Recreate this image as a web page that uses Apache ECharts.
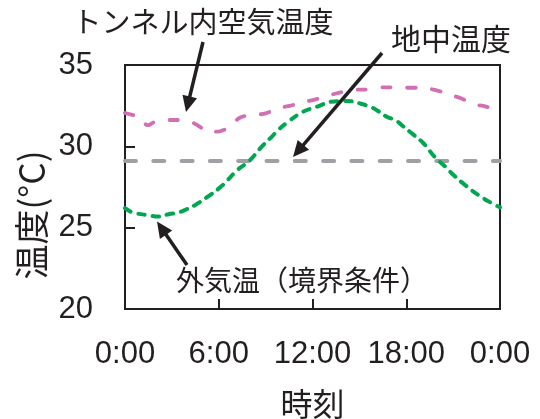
<!DOCTYPE html>
<html><head><meta charset="utf-8">
<script src="https://cdn.jsdelivr.net/npm/echarts@6.0.0/dist/echarts.min.js"></script>
<style>html,body{margin:0;padding:0;background:#fff}#c{width:540px;height:419px}</style>
</head><body><div id="c"></div>
<script>
// Tunnel air temperature (magenta)
const tunnelHours = [0, 0.6, 1.0, 1.45, 2.0, 2.7, 3.4, 3.95, 4.4, 4.8, 5.2, 5.9, 6.3, 6.7, 7.35, 8.3, 9.0, 9.8, 10.6, 11.4, 12.2, 13.0, 13.8, 14.7, 15.6, 16.4, 17.3, 18.2, 19.0, 20.0, 20.7, 21.5, 22.3, 23.1, 24];
const tunnelTemp  = [32.05, 31.9, 31.8, 31.3, 31.55, 31.62, 31.62, 31.58, 31.42, 31.2, 30.9, 30.9, 31.0, 31.15, 31.76, 31.93, 32.03, 32.34, 32.5, 32.71, 32.89, 33.11, 33.32, 33.48, 33.5, 33.63, 33.63, 33.6, 33.6, 33.42, 33.2, 32.95, 32.6, 32.44, 32.1];
// Outside air temperature (green)
const outsideHours = [0, 0.5, 1.6, 2.1, 2.8, 3.4, 3.75, 4.5, 5.3, 6.2, 7.2, 7.95, 8.75, 9.4, 9.8, 10.45, 11.4, 12.3, 13.2, 14.0, 14.5, 15.15, 15.7, 16.1, 16.75, 17.3, 17.7, 18.35, 19.1, 19.8, 20.5, 20.9, 21.75, 22.6, 23.35, 24];
const outsideTemp  = [26.2, 25.93, 25.75, 25.68, 25.83, 25.93, 26.05, 26.4, 26.91, 27.57, 28.55, 29.1, 29.98, 30.6, 31.0, 31.52, 32.13, 32.44, 32.74, 32.78, 32.77, 32.6, 32.44, 32.23, 31.82, 31.62, 31.31, 30.8, 30.19, 29.37, 28.75, 28.35, 27.63, 27.02, 26.57, 26.25];
// Ground temperature (gray)
const groundHours = [0, 24];
const groundTemp  = [29.1, 29.1];

const xTicks = [0, 6, 12, 18, 24];
const xTickLabels = ['0:00', '6:00', '12:00', '18:00', '0:00'];
const yTicks = [20, 25, 30, 35];

const xTitle = '時刻';
const yTitle = '温度(°C)';
const labelTunnel = 'トンネル内空気温度';
const labelGround = '地中温度';
const labelOutside = '外気温（境界条件）';

const INK = '#231f20';
const JP = '"Noto Sans CJK JP", sans-serif';
const NUM = '"Liberation Sans", Arial, sans-serif';

function pairs(xs, ys) { return xs.map((x, i) => [x, ys[i]]); }

function arrow(x1, y1, x2, y2) {
  const dx = x2 - x1, dy = y2 - y1, L = Math.hypot(dx, dy);
  const ux = dx / L, uy = dy / L, hl = 16, hw = 7.5;
  const bx = x2 - ux * hl, by = y2 - uy * hl;
  return [
    { type: 'line', z: 100, shape: { x1: x1, y1: y1, x2: bx + ux * 3, y2: by + uy * 3 },
      style: { stroke: INK, lineWidth: 3.5 } },
    { type: 'polygon', z: 100, shape: { points: [[x2, y2], [bx - uy * hw, by + ux * hw], [bx + uy * hw, by - ux * hw]] },
      style: { fill: INK } }
  ];
}

function txt(x, y, text, size, opts) {
  return Object.assign({ type: 'text', z: 100, x: x, y: y,
    style: { text: text, fontSize: size, fontFamily: JP, fill: INK, align: 'center', verticalAlign: 'middle' } }, opts || {});
}

const chart = echarts.init(document.getElementById('c'), null, { renderer: 'canvas' });
chart.setOption({
  animation: false,
  backgroundColor: '#fff',
  grid: { left: 125, right: 40, top: 65, bottom: 110, show: true, borderColor: INK, borderWidth: 2, backgroundColor: 'transparent' },
  xAxis: {
    type: 'value', min: xTicks[0], max: xTicks[xTicks.length - 1], interval: 6,
    axisLine: { show: true, lineStyle: { color: INK, width: 2 } },
    axisTick: { show: true, inside: true, length: 10, lineStyle: { color: INK, width: 2 } },
    splitLine: { show: false },
    axisLabel: { show: true, showMinLabel: true, showMaxLabel: true, margin: 30, fontSize: 31, fontFamily: NUM, color: INK,
      formatter: v => xTickLabels[xTicks.indexOf(v)] }
  },
  yAxis: {
    type: 'value', min: yTicks[0], max: yTicks[yTicks.length - 1], interval: 5,
    axisLine: { show: true, lineStyle: { color: INK, width: 2 } },
    axisTick: { show: true, inside: true, length: 10, lineStyle: { color: INK, width: 2 } },
    splitLine: { show: false },
    axisLabel: { show: true, margin: 32, fontSize: 31, fontFamily: NUM, color: INK }
  },
  series: [
    { name: 'ground', type: 'line', data: pairs(groundHours, groundTemp), showSymbol: false, z: 2,
      lineStyle: { color: '#9fa0a3', width: 4, type: [11, 17.3], cap: 'round' } },
    { name: 'tunnel', type: 'line', data: pairs(tunnelHours, tunnelTemp), showSymbol: false, smooth: 0.4, z: 3,
      lineStyle: { color: '#d26fb4', width: 3.8, type: [8.5, 16.5], cap: 'round' } },
    { name: 'outside', type: 'line', data: pairs(outsideHours, outsideTemp), showSymbol: false, smooth: 0.4, z: 4,
      lineStyle: { color: '#00a650', width: 4, type: [6.5, 8], cap: 'round' } }
  ],
  graphic: [].concat(
    arrow(203, 42, 186, 112),
    arrow(382, 53, 293, 157),
    arrow(187, 265, 157, 221.5),
    [
      txt(203, 22, labelTunnel, 29),
      txt(451, 39, labelGround, 30),
      txt(176, 280, labelOutside, 28, { style: { text: labelOutside, fontSize: 28, fontFamily: JP, fill: INK, align: 'left', verticalAlign: 'middle' } }),
      txt(312.5, 404, xTitle, 32),
      txt(32, 215, yTitle, 35, { rotation: Math.PI / 2 })
    ]
  )
});
</script>
</body></html>
